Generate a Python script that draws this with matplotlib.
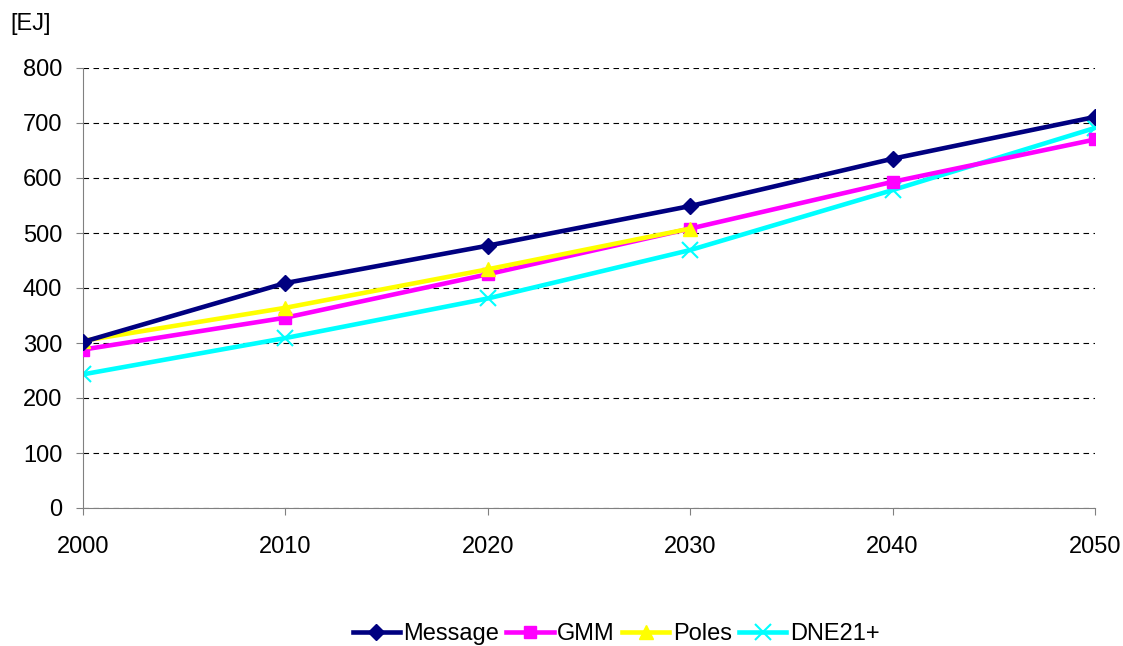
import matplotlib
matplotlib.use("Agg")
import matplotlib.pyplot as plt

plt.rcParams['font.family'] = ['Liberation Sans', 'DejaVu Sans']

years = [2000, 2010, 2020, 2030, 2040, 2050]
message = [302, 409, 477, 549, 635, 711]
gmm = [288, 346, 425, 508, 593, 670]
poles_years = [2000, 2010, 2020, 2030]
poles = [304, 364, 434, 508]
dne21 = [243, 309, 381, 469, 578, 691]

fs = 17

fig = plt.figure(figsize=(11.23, 6.46), dpi=100)
ax = fig.add_axes([83 / 1123, 1 - 508 / 646, (1095 - 83) / 1123, (508 - 68) / 646])

ax.plot(years, message, color="#000080", lw=3.3, marker="D", ms=8, label="Message", zorder=5)
ax.plot(years, gmm, color="#ff00ff", lw=3.3, marker="s", ms=9, label="GMM", zorder=3)
ax.plot(poles_years, poles, color="#ffff00", lw=3.3, marker="^", ms=10, label="Poles", zorder=4)
ax.plot(years, dne21, color="#00ffff", lw=3.3, marker="x", ms=11, mew=1.5, label="DNE21+", zorder=2)

ax.set_xlim(2000, 2050)
ax.set_ylim(0, 800)
ax.set_xticks(years)
ax.set_yticks(range(0, 801, 100))
ax.yaxis.grid(True, linestyle=(0, (5, 4)), color="black", lw=0.8)
ax.set_axisbelow(True)
for s in ["top", "right"]:
    ax.spines[s].set_visible(False)
ax.spines["left"].set_color("#808080")
ax.spines["bottom"].set_color("#808080")
ax.tick_params(labelsize=fs, length=5, color="#808080")
ax.tick_params(axis="y", pad=10)
ax.tick_params(axis="x", pad=15)

fig.text(10 / 1123, 1 - 24 / 646, "[EJ]", fontsize=fs, va="center")

fig.legend(loc="center", bbox_to_anchor=(616 / 1123, 1 - 634 / 646), ncol=4, frameon=False,
           fontsize=fs, handlelength=2.0, handletextpad=0.15, columnspacing=0.3)

fig.savefig("out.png", dpi=100)
